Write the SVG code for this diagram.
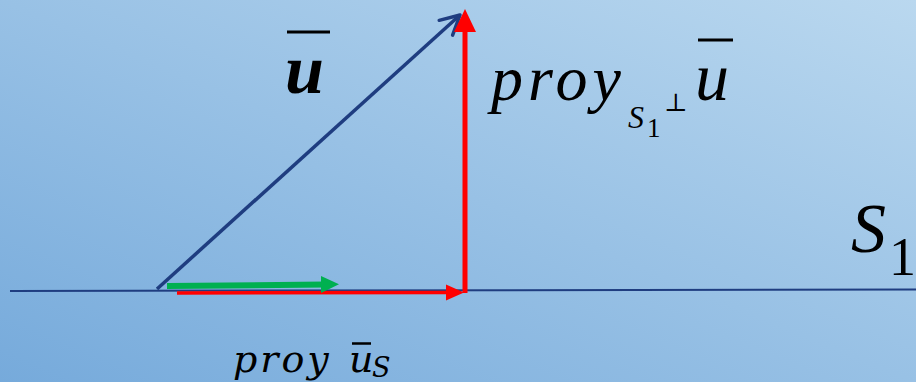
<svg xmlns="http://www.w3.org/2000/svg" width="916" height="382" viewBox="0 0 916 382">
<defs>
<linearGradient id="bg" x1="1" y1="0" x2="0" y2="1">
<stop offset="0" stop-color="#bad8ef"/>
<stop offset="1" stop-color="#76aadb"/>
</linearGradient>
<marker id="openBlue" viewBox="0 0 26 26" refX="22" refY="13" markerWidth="26" markerHeight="26" markerUnits="userSpaceOnUse" orient="auto">
<path d="M3,3 L22,13 L3,23" fill="none" stroke="#1f3d80" stroke-width="3.5" stroke-linecap="round" stroke-linejoin="round"/>
</marker>
</defs>
<style>
.bar{stroke:#000;stroke-width:3}
.red{fill:#ff0000}
.tnr{font-family:'Liberation Serif','Times New Roman',Times,serif}
.djv{font-family:'DejaVu Serif','Liberation Serif',serif}
</style>
<rect x="0" y="0" width="916" height="382" fill="url(#bg)"/>

<g id="axis">
<line x1="10" y1="291" x2="916" y2="289.5" stroke="#1f3d80" stroke-width="2"/>
</g>

<g id="connectors">
<line id="vec-u" x1="157" y1="289" x2="460" y2="15" stroke="#1f3d80" stroke-width="3.5" marker-end="url(#openBlue)"/>
<g id="vec-perp">
<line x1="465" y1="293" x2="465" y2="28" stroke="#ff0000" stroke-width="5"/>
<polygon class="red" points="465,9 454,32 476,32"/>
</g>
<g id="vec-proj-red">
<line x1="177" y1="293" x2="450" y2="292.5" stroke="#ff0000" stroke-width="3.5"/>
<polygon class="red" points="464,292.5 446,284.5 446,300.5"/>
</g>
<g id="vec-proj-green">
<line x1="167" y1="286" x2="325" y2="284.5" stroke="#00b050" stroke-width="6"/>
<polygon points="339,284.3 321,276 321,293" fill="#00b050"/>
</g>
</g>

<g id="label-u">
<line class="bar" x1="287" y1="32" x2="330" y2="32"/>
<text class="tnr" x="285" y="93" font-size="70" font-style="italic" font-weight="bold">u</text>
</g>

<g id="label-perp">
<text class="tnr" x="491" y="100" font-size="64" font-style="italic" letter-spacing="5">proy</text>
<text class="tnr" x="628" y="128" font-size="32" font-style="italic">S</text>
<text class="tnr" x="647" y="137" font-size="27">1</text>
<text class="djv" x="664" y="111" font-size="25">⊥</text>
<line class="bar" x1="698" y1="40" x2="733" y2="40"/>
<text class="tnr" x="695" y="100" font-size="68" font-style="italic">u</text>
</g>

<g id="label-S1">
<text class="tnr" x="851" y="252" font-size="70" font-style="italic">S</text>
<text class="tnr" x="889" y="275" font-size="54">1</text>
</g>

<g id="label-proj">
<text class="djv" x="233" y="372" font-size="38" font-style="italic" letter-spacing="3">proy</text>
<line x1="352" y1="343.5" x2="371" y2="343.5" stroke="#000" stroke-width="2.5"/>
<text class="djv" x="349" y="372" font-size="38" font-style="italic">u</text>
<text class="djv" x="372" y="377" font-size="27" font-style="italic">S</text>
</g>
</svg>
